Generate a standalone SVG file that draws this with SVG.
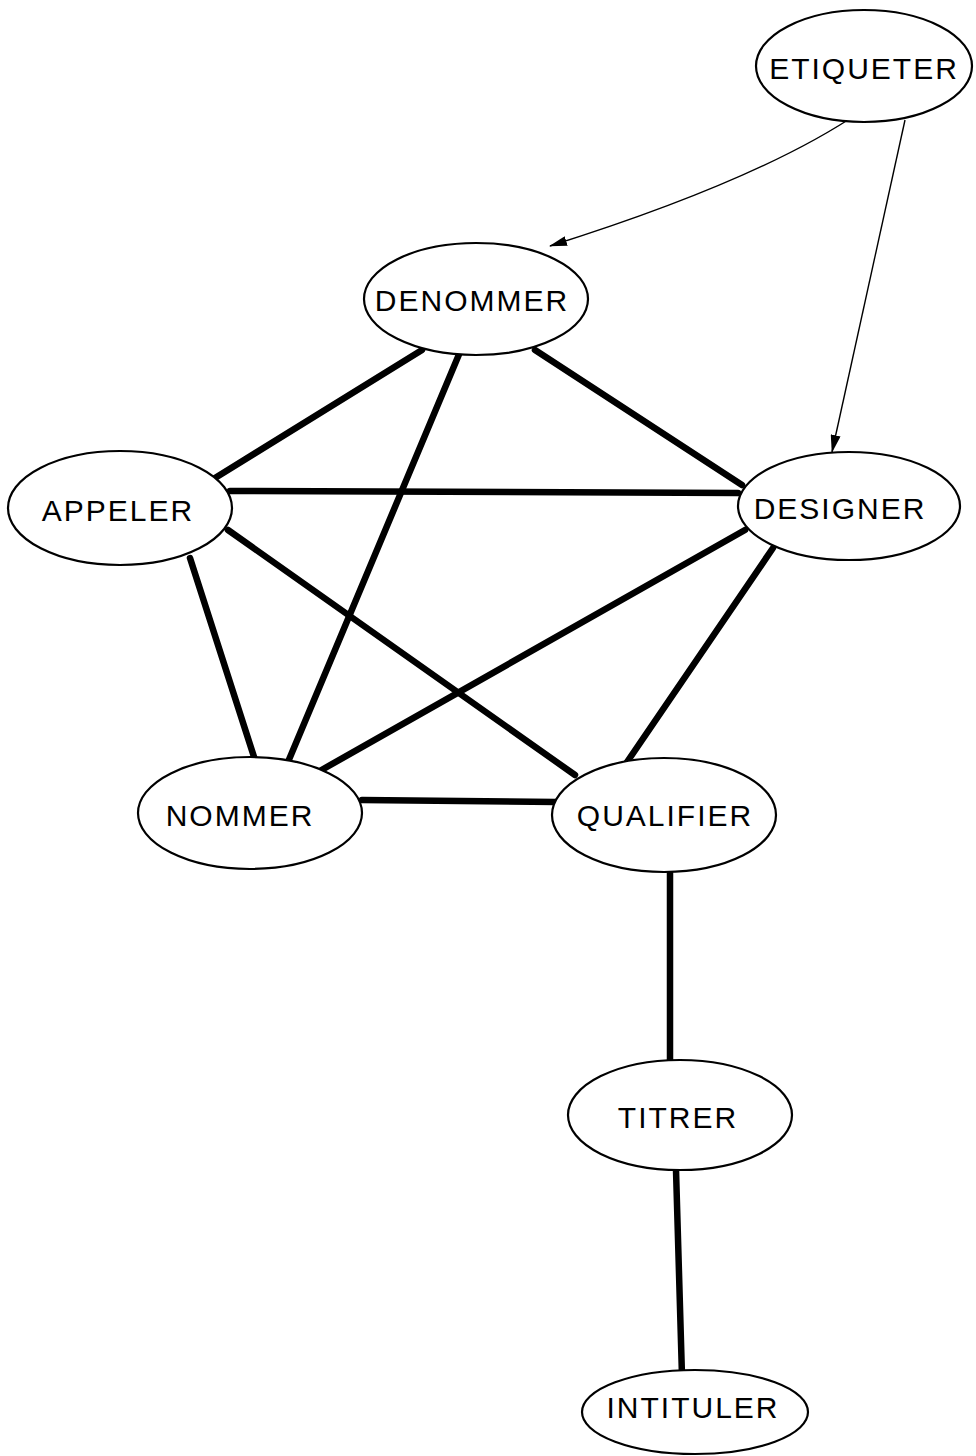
<svg xmlns="http://www.w3.org/2000/svg" width="976" height="1456" viewBox="0 0 976 1456">
<defs>
<style>
.node ellipse{fill:#fff;stroke:#000;stroke-width:2.2}
.node text{font-family:"Liberation Sans",Arial,sans-serif;font-size:30px;fill:#000;text-anchor:middle;dominant-baseline:central;letter-spacing:2px}
.thick{stroke:#000;stroke-width:6.5;fill:none;stroke-linecap:round}
.thin{stroke:#000;stroke-width:1.4;fill:none}
</style>
<marker id="arr" viewBox="0 0 18 10" refX="17" refY="5" markerWidth="18" markerHeight="10" markerUnits="userSpaceOnUse" orient="auto">
<path d="M0,0 L18,5 L0,10 Z" fill="#000"/>
</marker>
</defs>
<rect width="976" height="1456" fill="#fff"/>
<g id="connectors">
<line class="thick" x1="422" y1="350" x2="215" y2="478"/>
<line class="thick" x1="460" y1="352" x2="288" y2="762"/>
<line class="thick" x1="535" y1="350" x2="742" y2="485"/>
<line class="thick" x1="230" y1="491" x2="738" y2="493"/>
<line class="thick" x1="228" y1="530" x2="575" y2="775"/>
<line class="thick" x1="190" y1="558" x2="255" y2="760"/>
<line class="thick" x1="745" y1="530" x2="318" y2="772"/>
<line class="thick" x1="773" y1="548" x2="625" y2="765"/>
<line class="thick" x1="362" y1="800" x2="556" y2="802"/>
<line class="thick" x1="670" y1="870" x2="670" y2="1060"/>
<line class="thick" x1="676" y1="1170" x2="682" y2="1376"/>
<path class="thin" d="M860,112 Q760,180 550,246" marker-end="url(#arr)"/>
<path class="thin" d="M905,120 L832,452" marker-end="url(#arr)"/>
</g>
<g id="etiqueter" class="node"><ellipse cx="864" cy="66" rx="108" ry="56"/><text x="864" y="68">ETIQUETER</text></g>
<g id="denommer" class="node"><ellipse cx="476" cy="299" rx="112" ry="56"/><text x="472" y="300">DENOMMER</text></g>
<g id="appeler" class="node"><ellipse cx="120" cy="508" rx="112" ry="57"/><text x="118" y="510">APPELER</text></g>
<g id="designer" class="node"><ellipse cx="849" cy="506" rx="111" ry="54"/><text x="840" y="508">DESIGNER</text></g>
<g id="nommer" class="node"><ellipse cx="250" cy="813" rx="112" ry="56"/><text x="240" y="815">NOMMER</text></g>
<g id="qualifier" class="node"><ellipse cx="664" cy="815" rx="112" ry="57"/><text x="665" y="815">QUALIFIER</text></g>
<g id="titrer" class="node"><ellipse cx="680" cy="1115" rx="112" ry="55"/><text x="678" y="1117">TITRER</text></g>
<g id="intituler" class="node"><ellipse cx="695" cy="1412" rx="113" ry="42"/><text x="693" y="1407">INTITULER</text></g>
</svg>
